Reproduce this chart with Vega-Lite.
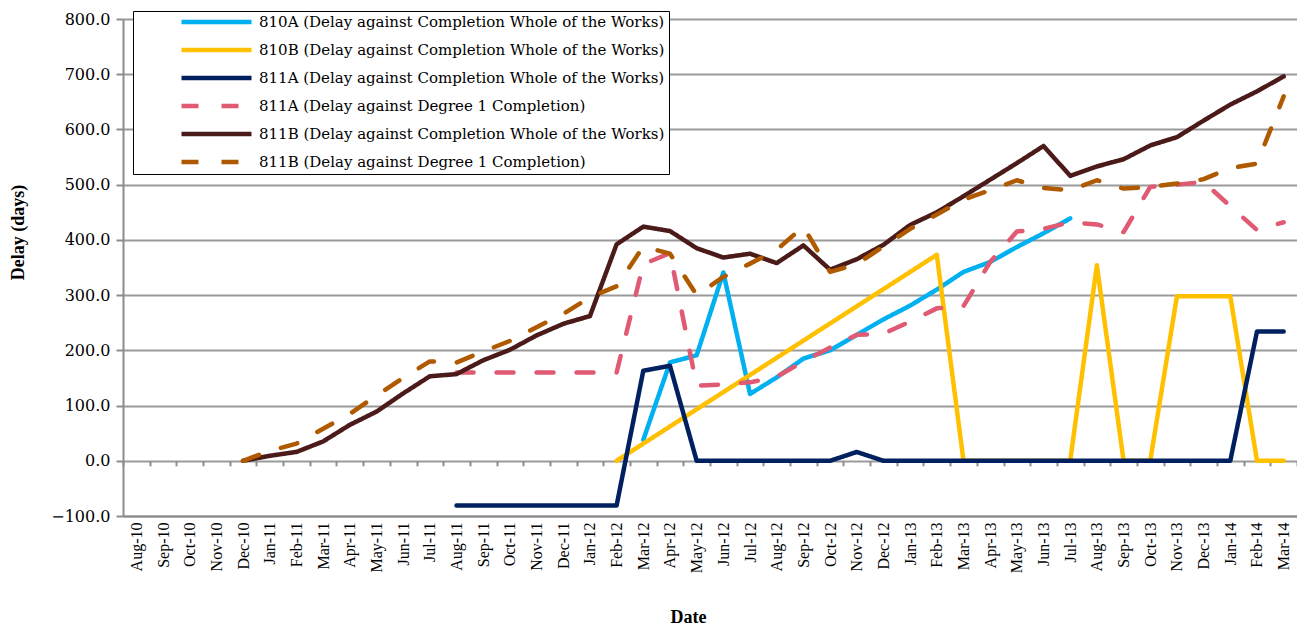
{
  "$schema": "https://vega.github.io/schema/vega-lite/v6.json",
  "width": 1174,
  "height": 497,
  "autosize": {"type": "none"},
  "padding": {"left": 123, "top": 19, "right": 0, "bottom": 112},
  "background": "white",
  "config": {
    "view": {"stroke": null},
    "font": "Liberation Serif"
  },
  "data": {
    "values": [
      {"month": "Mar-12", "series": "810A (Delay against Completion Whole of the Works)", "delay": 38},
      {"month": "Apr-12", "series": "810A (Delay against Completion Whole of the Works)", "delay": 178},
      {"month": "May-12", "series": "810A (Delay against Completion Whole of the Works)", "delay": 191},
      {"month": "Jun-12", "series": "810A (Delay against Completion Whole of the Works)", "delay": 341},
      {"month": "Jul-12", "series": "810A (Delay against Completion Whole of the Works)", "delay": 121},
      {"month": "Aug-12", "series": "810A (Delay against Completion Whole of the Works)", "delay": 151},
      {"month": "Sep-12", "series": "810A (Delay against Completion Whole of the Works)", "delay": 185},
      {"month": "Oct-12", "series": "810A (Delay against Completion Whole of the Works)", "delay": 200},
      {"month": "Nov-12", "series": "810A (Delay against Completion Whole of the Works)", "delay": 228},
      {"month": "Dec-12", "series": "810A (Delay against Completion Whole of the Works)", "delay": 256},
      {"month": "Jan-13", "series": "810A (Delay against Completion Whole of the Works)", "delay": 281},
      {"month": "Feb-13", "series": "810A (Delay against Completion Whole of the Works)", "delay": 310},
      {"month": "Mar-13", "series": "810A (Delay against Completion Whole of the Works)", "delay": 342},
      {"month": "Apr-13", "series": "810A (Delay against Completion Whole of the Works)", "delay": 360},
      {"month": "May-13", "series": "810A (Delay against Completion Whole of the Works)", "delay": 387},
      {"month": "Jun-13", "series": "810A (Delay against Completion Whole of the Works)", "delay": 412},
      {"month": "Jul-13", "series": "810A (Delay against Completion Whole of the Works)", "delay": 439},

      {"month": "Feb-12", "series": "810B (Delay against Completion Whole of the Works)", "delay": 0},
      {"month": "Feb-13", "series": "810B (Delay against Completion Whole of the Works)", "delay": 373},
      {"month": "Mar-13", "series": "810B (Delay against Completion Whole of the Works)", "delay": 0},
      {"month": "Apr-13", "series": "810B (Delay against Completion Whole of the Works)", "delay": 0},
      {"month": "May-13", "series": "810B (Delay against Completion Whole of the Works)", "delay": 0},
      {"month": "Jun-13", "series": "810B (Delay against Completion Whole of the Works)", "delay": 0},
      {"month": "Jul-13", "series": "810B (Delay against Completion Whole of the Works)", "delay": 0},
      {"month": "Aug-13", "series": "810B (Delay against Completion Whole of the Works)", "delay": 354},
      {"month": "Sep-13", "series": "810B (Delay against Completion Whole of the Works)", "delay": 0},
      {"month": "Oct-13", "series": "810B (Delay against Completion Whole of the Works)", "delay": 0},
      {"month": "Nov-13", "series": "810B (Delay against Completion Whole of the Works)", "delay": 298},
      {"month": "Dec-13", "series": "810B (Delay against Completion Whole of the Works)", "delay": 298},
      {"month": "Jan-14", "series": "810B (Delay against Completion Whole of the Works)", "delay": 298},
      {"month": "Feb-14", "series": "810B (Delay against Completion Whole of the Works)", "delay": 0},
      {"month": "Mar-14", "series": "810B (Delay against Completion Whole of the Works)", "delay": 0},

      {"month": "Aug-11", "series": "811A (Delay against Completion Whole of the Works)", "delay": -81},
      {"month": "Sep-11", "series": "811A (Delay against Completion Whole of the Works)", "delay": -81},
      {"month": "Oct-11", "series": "811A (Delay against Completion Whole of the Works)", "delay": -81},
      {"month": "Nov-11", "series": "811A (Delay against Completion Whole of the Works)", "delay": -81},
      {"month": "Dec-11", "series": "811A (Delay against Completion Whole of the Works)", "delay": -81},
      {"month": "Jan-12", "series": "811A (Delay against Completion Whole of the Works)", "delay": -81},
      {"month": "Feb-12", "series": "811A (Delay against Completion Whole of the Works)", "delay": -81},
      {"month": "Mar-12", "series": "811A (Delay against Completion Whole of the Works)", "delay": 163},
      {"month": "Apr-12", "series": "811A (Delay against Completion Whole of the Works)", "delay": 172},
      {"month": "May-12", "series": "811A (Delay against Completion Whole of the Works)", "delay": 0},
      {"month": "Jun-12", "series": "811A (Delay against Completion Whole of the Works)", "delay": 0},
      {"month": "Jul-12", "series": "811A (Delay against Completion Whole of the Works)", "delay": 0},
      {"month": "Aug-12", "series": "811A (Delay against Completion Whole of the Works)", "delay": 0},
      {"month": "Sep-12", "series": "811A (Delay against Completion Whole of the Works)", "delay": 0},
      {"month": "Oct-12", "series": "811A (Delay against Completion Whole of the Works)", "delay": 0},
      {"month": "Nov-12", "series": "811A (Delay against Completion Whole of the Works)", "delay": 16},
      {"month": "Dec-12", "series": "811A (Delay against Completion Whole of the Works)", "delay": 0},
      {"month": "Jan-13", "series": "811A (Delay against Completion Whole of the Works)", "delay": 0},
      {"month": "Feb-13", "series": "811A (Delay against Completion Whole of the Works)", "delay": 0},
      {"month": "Mar-13", "series": "811A (Delay against Completion Whole of the Works)", "delay": 0},
      {"month": "Apr-13", "series": "811A (Delay against Completion Whole of the Works)", "delay": 0},
      {"month": "May-13", "series": "811A (Delay against Completion Whole of the Works)", "delay": 0},
      {"month": "Jun-13", "series": "811A (Delay against Completion Whole of the Works)", "delay": 0},
      {"month": "Jul-13", "series": "811A (Delay against Completion Whole of the Works)", "delay": 0},
      {"month": "Aug-13", "series": "811A (Delay against Completion Whole of the Works)", "delay": 0},
      {"month": "Sep-13", "series": "811A (Delay against Completion Whole of the Works)", "delay": 0},
      {"month": "Oct-13", "series": "811A (Delay against Completion Whole of the Works)", "delay": 0},
      {"month": "Nov-13", "series": "811A (Delay against Completion Whole of the Works)", "delay": 0},
      {"month": "Dec-13", "series": "811A (Delay against Completion Whole of the Works)", "delay": 0},
      {"month": "Jan-14", "series": "811A (Delay against Completion Whole of the Works)", "delay": 0},
      {"month": "Feb-14", "series": "811A (Delay against Completion Whole of the Works)", "delay": 234},
      {"month": "Mar-14", "series": "811A (Delay against Completion Whole of the Works)", "delay": 234},

      {"month": "Aug-11", "series": "811A (Delay against Degree 1 Completion)", "delay": 160},
      {"month": "Sep-11", "series": "811A (Delay against Degree 1 Completion)", "delay": 160},
      {"month": "Oct-11", "series": "811A (Delay against Degree 1 Completion)", "delay": 160},
      {"month": "Nov-11", "series": "811A (Delay against Degree 1 Completion)", "delay": 160},
      {"month": "Dec-11", "series": "811A (Delay against Degree 1 Completion)", "delay": 160},
      {"month": "Jan-12", "series": "811A (Delay against Degree 1 Completion)", "delay": 160},
      {"month": "Feb-12", "series": "811A (Delay against Degree 1 Completion)", "delay": 160},
      {"month": "Mar-12", "series": "811A (Delay against Degree 1 Completion)", "delay": 356},
      {"month": "Apr-12", "series": "811A (Delay against Degree 1 Completion)", "delay": 376},
      {"month": "May-12", "series": "811A (Delay against Degree 1 Completion)", "delay": 136},
      {"month": "Jun-12", "series": "811A (Delay against Degree 1 Completion)", "delay": 138},
      {"month": "Jul-12", "series": "811A (Delay against Degree 1 Completion)", "delay": 142},
      {"month": "Aug-12", "series": "811A (Delay against Degree 1 Completion)", "delay": 152},
      {"month": "Sep-12", "series": "811A (Delay against Degree 1 Completion)", "delay": 180},
      {"month": "Oct-12", "series": "811A (Delay against Degree 1 Completion)", "delay": 205},
      {"month": "Nov-12", "series": "811A (Delay against Degree 1 Completion)", "delay": 228},
      {"month": "Dec-12", "series": "811A (Delay against Degree 1 Completion)", "delay": 230},
      {"month": "Jan-13", "series": "811A (Delay against Degree 1 Completion)", "delay": 252},
      {"month": "Feb-13", "series": "811A (Delay against Degree 1 Completion)", "delay": 276},
      {"month": "Mar-13", "series": "811A (Delay against Degree 1 Completion)", "delay": 280},
      {"month": "Apr-13", "series": "811A (Delay against Degree 1 Completion)", "delay": 360},
      {"month": "May-13", "series": "811A (Delay against Degree 1 Completion)", "delay": 415},
      {"month": "Jun-13", "series": "811A (Delay against Degree 1 Completion)", "delay": 420},
      {"month": "Jul-13", "series": "811A (Delay against Degree 1 Completion)", "delay": 432},
      {"month": "Aug-13", "series": "811A (Delay against Degree 1 Completion)", "delay": 428},
      {"month": "Sep-13", "series": "811A (Delay against Degree 1 Completion)", "delay": 414},
      {"month": "Oct-13", "series": "811A (Delay against Degree 1 Completion)", "delay": 496},
      {"month": "Nov-13", "series": "811A (Delay against Degree 1 Completion)", "delay": 500},
      {"month": "Dec-13", "series": "811A (Delay against Degree 1 Completion)", "delay": 505},
      {"month": "Jan-14", "series": "811A (Delay against Degree 1 Completion)", "delay": 461},
      {"month": "Feb-14", "series": "811A (Delay against Degree 1 Completion)", "delay": 418},
      {"month": "Mar-14", "series": "811A (Delay against Degree 1 Completion)", "delay": 432},

      {"month": "Dec-10", "series": "811B (Delay against Completion Whole of the Works)", "delay": 0},
      {"month": "Jan-11", "series": "811B (Delay against Completion Whole of the Works)", "delay": 9},
      {"month": "Feb-11", "series": "811B (Delay against Completion Whole of the Works)", "delay": 16},
      {"month": "Mar-11", "series": "811B (Delay against Completion Whole of the Works)", "delay": 35},
      {"month": "Apr-11", "series": "811B (Delay against Completion Whole of the Works)", "delay": 65},
      {"month": "May-11", "series": "811B (Delay against Completion Whole of the Works)", "delay": 89},
      {"month": "Jun-11", "series": "811B (Delay against Completion Whole of the Works)", "delay": 122},
      {"month": "Jul-11", "series": "811B (Delay against Completion Whole of the Works)", "delay": 153},
      {"month": "Aug-11", "series": "811B (Delay against Completion Whole of the Works)", "delay": 157},
      {"month": "Sep-11", "series": "811B (Delay against Completion Whole of the Works)", "delay": 182},
      {"month": "Oct-11", "series": "811B (Delay against Completion Whole of the Works)", "delay": 201},
      {"month": "Nov-11", "series": "811B (Delay against Completion Whole of the Works)", "delay": 227},
      {"month": "Dec-11", "series": "811B (Delay against Completion Whole of the Works)", "delay": 248},
      {"month": "Jan-12", "series": "811B (Delay against Completion Whole of the Works)", "delay": 262},
      {"month": "Feb-12", "series": "811B (Delay against Completion Whole of the Works)", "delay": 392},
      {"month": "Mar-12", "series": "811B (Delay against Completion Whole of the Works)", "delay": 424},
      {"month": "Apr-12", "series": "811B (Delay against Completion Whole of the Works)", "delay": 416},
      {"month": "May-12", "series": "811B (Delay against Completion Whole of the Works)", "delay": 385},
      {"month": "Jun-12", "series": "811B (Delay against Completion Whole of the Works)", "delay": 368},
      {"month": "Jul-12", "series": "811B (Delay against Completion Whole of the Works)", "delay": 375},
      {"month": "Aug-12", "series": "811B (Delay against Completion Whole of the Works)", "delay": 358},
      {"month": "Sep-12", "series": "811B (Delay against Completion Whole of the Works)", "delay": 390},
      {"month": "Oct-12", "series": "811B (Delay against Completion Whole of the Works)", "delay": 346},
      {"month": "Nov-12", "series": "811B (Delay against Completion Whole of the Works)", "delay": 365},
      {"month": "Dec-12", "series": "811B (Delay against Completion Whole of the Works)", "delay": 391},
      {"month": "Jan-13", "series": "811B (Delay against Completion Whole of the Works)", "delay": 427},
      {"month": "Feb-13", "series": "811B (Delay against Completion Whole of the Works)", "delay": 450},
      {"month": "Mar-13", "series": "811B (Delay against Completion Whole of the Works)", "delay": 479},
      {"month": "Apr-13", "series": "811B (Delay against Completion Whole of the Works)", "delay": 509},
      {"month": "May-13", "series": "811B (Delay against Completion Whole of the Works)", "delay": 539},
      {"month": "Jun-13", "series": "811B (Delay against Completion Whole of the Works)", "delay": 570},
      {"month": "Jul-13", "series": "811B (Delay against Completion Whole of the Works)", "delay": 516},
      {"month": "Aug-13", "series": "811B (Delay against Completion Whole of the Works)", "delay": 533},
      {"month": "Sep-13", "series": "811B (Delay against Completion Whole of the Works)", "delay": 546},
      {"month": "Oct-13", "series": "811B (Delay against Completion Whole of the Works)", "delay": 571},
      {"month": "Nov-13", "series": "811B (Delay against Completion Whole of the Works)", "delay": 586},
      {"month": "Dec-13", "series": "811B (Delay against Completion Whole of the Works)", "delay": 616},
      {"month": "Jan-14", "series": "811B (Delay against Completion Whole of the Works)", "delay": 645},
      {"month": "Feb-14", "series": "811B (Delay against Completion Whole of the Works)", "delay": 669},
      {"month": "Mar-14", "series": "811B (Delay against Completion Whole of the Works)", "delay": 696},

      {"month": "Dec-10", "series": "811B (Delay against Degree 1 Completion)", "delay": 0},
      {"month": "Jan-11", "series": "811B (Delay against Degree 1 Completion)", "delay": 18},
      {"month": "Feb-11", "series": "811B (Delay against Degree 1 Completion)", "delay": 31},
      {"month": "Mar-11", "series": "811B (Delay against Degree 1 Completion)", "delay": 58},
      {"month": "Apr-11", "series": "811B (Delay against Degree 1 Completion)", "delay": 85},
      {"month": "May-11", "series": "811B (Delay against Degree 1 Completion)", "delay": 118},
      {"month": "Jun-11", "series": "811B (Delay against Degree 1 Completion)", "delay": 150},
      {"month": "Jul-11", "series": "811B (Delay against Degree 1 Completion)", "delay": 180},
      {"month": "Aug-11", "series": "811B (Delay against Degree 1 Completion)", "delay": 178},
      {"month": "Sep-11", "series": "811B (Delay against Degree 1 Completion)", "delay": 198},
      {"month": "Oct-11", "series": "811B (Delay against Degree 1 Completion)", "delay": 217},
      {"month": "Nov-11", "series": "811B (Delay against Degree 1 Completion)", "delay": 242},
      {"month": "Dec-11", "series": "811B (Delay against Degree 1 Completion)", "delay": 266},
      {"month": "Jan-12", "series": "811B (Delay against Degree 1 Completion)", "delay": 296},
      {"month": "Feb-12", "series": "811B (Delay against Degree 1 Completion)", "delay": 316},
      {"month": "Mar-12", "series": "811B (Delay against Degree 1 Completion)", "delay": 388},
      {"month": "Apr-12", "series": "811B (Delay against Degree 1 Completion)", "delay": 375},
      {"month": "May-12", "series": "811B (Delay against Degree 1 Completion)", "delay": 300},
      {"month": "Jun-12", "series": "811B (Delay against Degree 1 Completion)", "delay": 333},
      {"month": "Jul-12", "series": "811B (Delay against Degree 1 Completion)", "delay": 357},
      {"month": "Aug-12", "series": "811B (Delay against Degree 1 Completion)", "delay": 382},
      {"month": "Sep-12", "series": "811B (Delay against Degree 1 Completion)", "delay": 424},
      {"month": "Oct-12", "series": "811B (Delay against Degree 1 Completion)", "delay": 342},
      {"month": "Nov-12", "series": "811B (Delay against Degree 1 Completion)", "delay": 356},
      {"month": "Dec-12", "series": "811B (Delay against Degree 1 Completion)", "delay": 388},
      {"month": "Jan-13", "series": "811B (Delay against Degree 1 Completion)", "delay": 420},
      {"month": "Feb-13", "series": "811B (Delay against Degree 1 Completion)", "delay": 446},
      {"month": "Mar-13", "series": "811B (Delay against Degree 1 Completion)", "delay": 473},
      {"month": "Apr-13", "series": "811B (Delay against Degree 1 Completion)", "delay": 490},
      {"month": "May-13", "series": "811B (Delay against Degree 1 Completion)", "delay": 508},
      {"month": "Jun-13", "series": "811B (Delay against Degree 1 Completion)", "delay": 494},
      {"month": "Jul-13", "series": "811B (Delay against Degree 1 Completion)", "delay": 490},
      {"month": "Aug-13", "series": "811B (Delay against Degree 1 Completion)", "delay": 508},
      {"month": "Sep-13", "series": "811B (Delay against Degree 1 Completion)", "delay": 493},
      {"month": "Oct-13", "series": "811B (Delay against Degree 1 Completion)", "delay": 496},
      {"month": "Nov-13", "series": "811B (Delay against Degree 1 Completion)", "delay": 502},
      {"month": "Dec-13", "series": "811B (Delay against Degree 1 Completion)", "delay": 510},
      {"month": "Jan-14", "series": "811B (Delay against Degree 1 Completion)", "delay": 530},
      {"month": "Feb-14", "series": "811B (Delay against Degree 1 Completion)", "delay": 538},
      {"month": "Mar-14", "series": "811B (Delay against Degree 1 Completion)", "delay": 660}
    ]
  },
  "resolve": {"scale": {"x": "independent"}, "axis": {"x": "independent"}},
  "layer": [
    {
      "mark": {"type": "line", "opacity": 0, "strokeWidth": 1},
      "encoding": {
        "x": {
          "field": "month",
          "type": "ordinal",
          "scale": {
            "type": "band",
            "paddingInner": 0,
            "paddingOuter": 0,
            "domain": ["Aug-10","Sep-10","Oct-10","Nov-10","Dec-10","Jan-11","Feb-11","Mar-11","Apr-11","May-11","Jun-11","Jul-11","Aug-11","Sep-11","Oct-11","Nov-11","Dec-11","Jan-12","Feb-12","Mar-12","Apr-12","May-12","Jun-12","Jul-12","Aug-12","Sep-12","Oct-12","Nov-12","Dec-12","Jan-13","Feb-13","Mar-13","Apr-13","May-13","Jun-13","Jul-13","Aug-13","Sep-13","Oct-13","Nov-13","Dec-13","Jan-14","Feb-14","Mar-14"]
          },
          "axis": {
            "orient": "bottom",
            "offset": -55.2,
            "title": null,
            "labels": false,
            "domain": false,
            "grid": false,
            "ticks": true,
            "tickBand": "extent",
            "tickSize": 5,
            "tickColor": "#8c8c8c",
            "tickWidth": 2
          }
        },
        "y": {
          "field": "delay",
          "type": "quantitative",
          "scale": {"domain": [-100, 800], "nice": false, "zero": false},
          "axis": {
            "title": "Delay (days)",
            "titleFont": "Liberation Serif",
            "titleFontSize": 18,
            "titleFontWeight": "bold",
            "titleColor": "black",
            "titleX": -105,
            "titleY": 213,
            "titleAngle": 270,
            "titleAlign": "center",
            "titleBaseline": "middle",
            "values": [-100, 0, 100, 200, 300, 400, 500, 600, 700, 800],
            "format": ".1f",
            "labelFont": "DejaVu Serif",
            "labelFontSize": 16,
            "labelColor": "black",
            "labelPadding": 6,
            "tickSize": 7,
            "tickColor": "#8c8c8c",
            "tickWidth": 2,
            "domainColor": "#8c8c8c",
            "domainWidth": 2,
            "grid": true,
            "gridColor": "#9a9a9a",
            "gridWidth": 2
          }
        }
      }
    },
    {
      "mark": {"type": "line", "strokeWidth": 4.5, "strokeCap": "round", "strokeJoin": "round"},
      "encoding": {
        "x": {
          "field": "month",
          "type": "ordinal",
          "sort": ["Aug-10","Sep-10","Oct-10","Nov-10","Dec-10","Jan-11","Feb-11","Mar-11","Apr-11","May-11","Jun-11","Jul-11","Aug-11","Sep-11","Oct-11","Nov-11","Dec-11","Jan-12","Feb-12","Mar-12","Apr-12","May-12","Jun-12","Jul-12","Aug-12","Sep-12","Oct-12","Nov-12","Dec-12","Jan-13","Feb-13","Mar-13","Apr-13","May-13","Jun-13","Jul-13","Aug-13","Sep-13","Oct-13","Nov-13","Dec-13","Jan-14","Feb-14","Mar-14"],
          "scale": {
            "type": "point",
            "padding": 0.5,
            "domain": ["Aug-10","Sep-10","Oct-10","Nov-10","Dec-10","Jan-11","Feb-11","Mar-11","Apr-11","May-11","Jun-11","Jul-11","Aug-11","Sep-11","Oct-11","Nov-11","Dec-11","Jan-12","Feb-12","Mar-12","Apr-12","May-12","Jun-12","Jul-12","Aug-12","Sep-12","Oct-12","Nov-12","Dec-12","Jan-13","Feb-13","Mar-13","Apr-13","May-13","Jun-13","Jul-13","Aug-13","Sep-13","Oct-13","Nov-13","Dec-13","Jan-14","Feb-14","Mar-14"]
          },
          "axis": {
            "orient": "bottom",
            "title": "Date",
            "titleFont": "Liberation Serif",
            "titleFontSize": 18,
            "titleFontWeight": "bold",
            "titleColor": "black",
            "titleX": 565,
            "titleY": 101,
            "titleAlign": "center",
            "titleBaseline": "middle",
            "labelAngle": 270,
            "labelFont": "Liberation Serif",
            "labelFontSize": 16,
            "labelColor": "black",
            "labelPadding": 6,
            "ticks": false,
            "domainColor": "#8c8c8c",
            "domainWidth": 2,
            "grid": false
          }
        },
        "y": {
          "field": "delay",
          "type": "quantitative",
          "scale": {"domain": [-100, 800], "nice": false, "zero": false},
          "axis": {
            "title": "Delay (days)",
            "titleFont": "Liberation Serif",
            "titleFontSize": 18,
            "titleFontWeight": "bold",
            "titleColor": "black",
            "titleX": -105,
            "titleY": 213,
            "titleAngle": 270,
            "titleAlign": "center",
            "titleBaseline": "middle",
            "values": [-100, 0, 100, 200, 300, 400, 500, 600, 700, 800],
            "format": ".1f",
            "labelFont": "DejaVu Serif",
            "labelFontSize": 16,
            "labelColor": "black",
            "labelPadding": 6,
            "tickSize": 7,
            "tickColor": "#8c8c8c",
            "tickWidth": 2,
            "domainColor": "#8c8c8c",
            "domainWidth": 2,
            "grid": true,
            "gridColor": "#9a9a9a",
            "gridWidth": 2
          }
        },
        "color": {
          "field": "series",
          "type": "nominal",
          "scale": {
            "domain": [
              "810A (Delay against Completion Whole of the Works)",
              "810B (Delay against Completion Whole of the Works)",
              "811A (Delay against Completion Whole of the Works)",
              "811A (Delay against Degree 1 Completion)",
              "811B (Delay against Completion Whole of the Works)",
              "811B (Delay against Degree 1 Completion)"
            ],
            "range": ["#00B0F0", "#FFC000", "#002060", "#DF5A72", "#4A1B19", "#B05A00"]
          },
          "legend": {
            "title": null,
            "orient": "none",
            "legendX": 10,
            "legendY": -8,
            "direction": "vertical",
            "strokeColor": "black",
            "fillColor": "white",
            "padding": 4,
            "symbolType": "stroke",
            "symbolSize": 4900,
            "symbolStrokeWidth": 4.5,
            "symbolOffset": 42,
            "labelOffset": 5,
            "clipHeight": 14,
            "rowPadding": 13,
            "labelFont": "DejaVu Serif",
            "labelFontSize": 15,
            "labelColor": "black",
            "labelLimit": 600
          }
        },
        "strokeDash": {
          "field": "series",
          "type": "nominal",
          "scale": {
            "domain": [
              "810A (Delay against Completion Whole of the Works)",
              "810B (Delay against Completion Whole of the Works)",
              "811A (Delay against Completion Whole of the Works)",
              "811A (Delay against Degree 1 Completion)",
              "811B (Delay against Completion Whole of the Works)",
              "811B (Delay against Degree 1 Completion)"
            ],
            "range": [[1, 0], [1, 0], [1, 0], [17, 23], [1, 0], [17, 23]]
          },
          "legend": {
            "title": null,
            "orient": "none",
            "legendX": 10,
            "legendY": -8,
            "direction": "vertical",
            "strokeColor": "black",
            "fillColor": "white",
            "padding": 4,
            "symbolType": "stroke",
            "symbolSize": 4900,
            "symbolStrokeWidth": 4.5,
            "symbolOffset": 42,
            "labelOffset": 5,
            "clipHeight": 14,
            "rowPadding": 13,
            "labelFont": "DejaVu Serif",
            "labelFontSize": 15,
            "labelColor": "black",
            "labelLimit": 600
          }
        }
      }
    }
  ]
}
